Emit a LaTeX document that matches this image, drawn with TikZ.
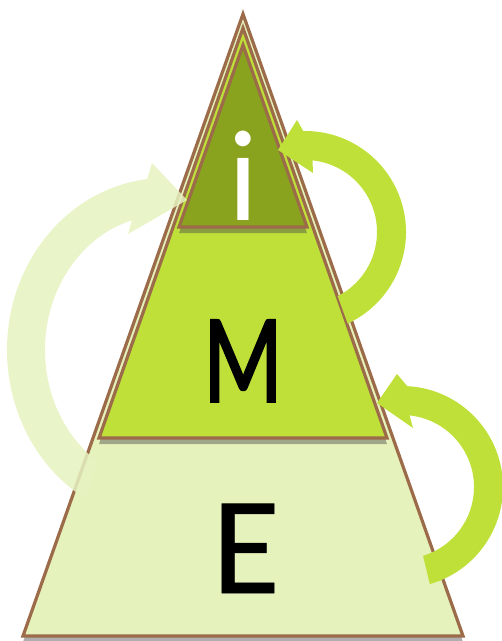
\documentclass[tikz,border=0pt]{standalone}
\usepackage{fontspec}
\setmainfont{Carlito}
\newfontfamily\narrowsans[FakeStretch=0.72, FakeBold=1.5]{Carlito}
\newfontfamily\heavysans[FakeBold=0.5]{Carlito}
\usetikzlibrary{calc, shadows}
\definecolor{bark}{HTML}{9B6B4A}
\definecolor{paleleaf}{HTML}{E6F2BB}
\definecolor{lime}{HTML}{BFE038}
\definecolor{olive}{HTML}{89A31E}
\definecolor{mist}{HTML}{E6F2C0}

\begin{document}
\begin{tikzpicture}[x=1pt, y=-1pt,
  tier/.style={draw=bark, line width=3.2pt,
               drop shadow={shadow xshift=0pt, shadow yshift=-6pt, opacity=0.45, fill=black!70}},
  letter/.style={anchor=base, inner sep=0pt},
  cyclearrow/.style={fill=lime},
  faint/.style={fill=mist, fill opacity=0.85}
]
  \useasboundingbox (0,0) rectangle (502,641);

  \coordinate (apexE) at (243,14);
  \coordinate (apexM) at (243,28);
  \coordinate (apexI) at (243,45);
  \filldraw[tier, fill=paleleaf] (apexE) -- (463,636) -- (23,636) -- cycle;
  \filldraw[tier, fill=lime] (apexM) -- (387,438) -- (99,438) -- cycle;
  \filldraw[tier, fill=olive] (apexI) -- (307,227) -- (179,227) -- cycle;

  \coordinate (hubA) at (305,232);
  \coordinate (hubB) at (402,487);
  \coordinate (hubC) at (165,350);

  \fill[faint] ($(hubC)+(120:158 and 172)$)
    arc[start angle=120, end angle=263.5, x radius=158, y radius=172]
    -- (152,163) -- (187,200) -- (128,234)
    -- ($(hubC)+(254:120 and 135)$)
    arc[start angle=254, end angle=124, x radius=120, y radius=135] -- cycle;

  \fill[cyclearrow] ($(hubA)+(65:101)$) arc[start angle=65, end angle=-91, radius=101]
    -- (297,120) -- (278,150) -- (313,173)
    -- ($(hubA)+(-84:72)$) arc[start angle=-84, end angle=63, radius=72] -- cycle;

  \fill[cyclearrow] ($(hubB)+(74:101)$) arc[start angle=74, end angle=-87, radius=101]
    -- (397,374) -- (377,403) -- (413,428)
    -- ($(hubB)+(-84:72)$) arc[start angle=-84, end angle=73, radius=72] -- cycle;

  \node[letter, text=white, font=\fontsize{130}{130}\selectfont] (lblI) at (243,220) {i};
  \node[letter, font=\narrowsans\fontsize{128}{128}\selectfont] (lblM) at (243,402) {M};
  \node[letter, font=\heavysans\fontsize{139}{139}\selectfont] (lblE) at (246,593) {E};
\end{tikzpicture}
\end{document}
